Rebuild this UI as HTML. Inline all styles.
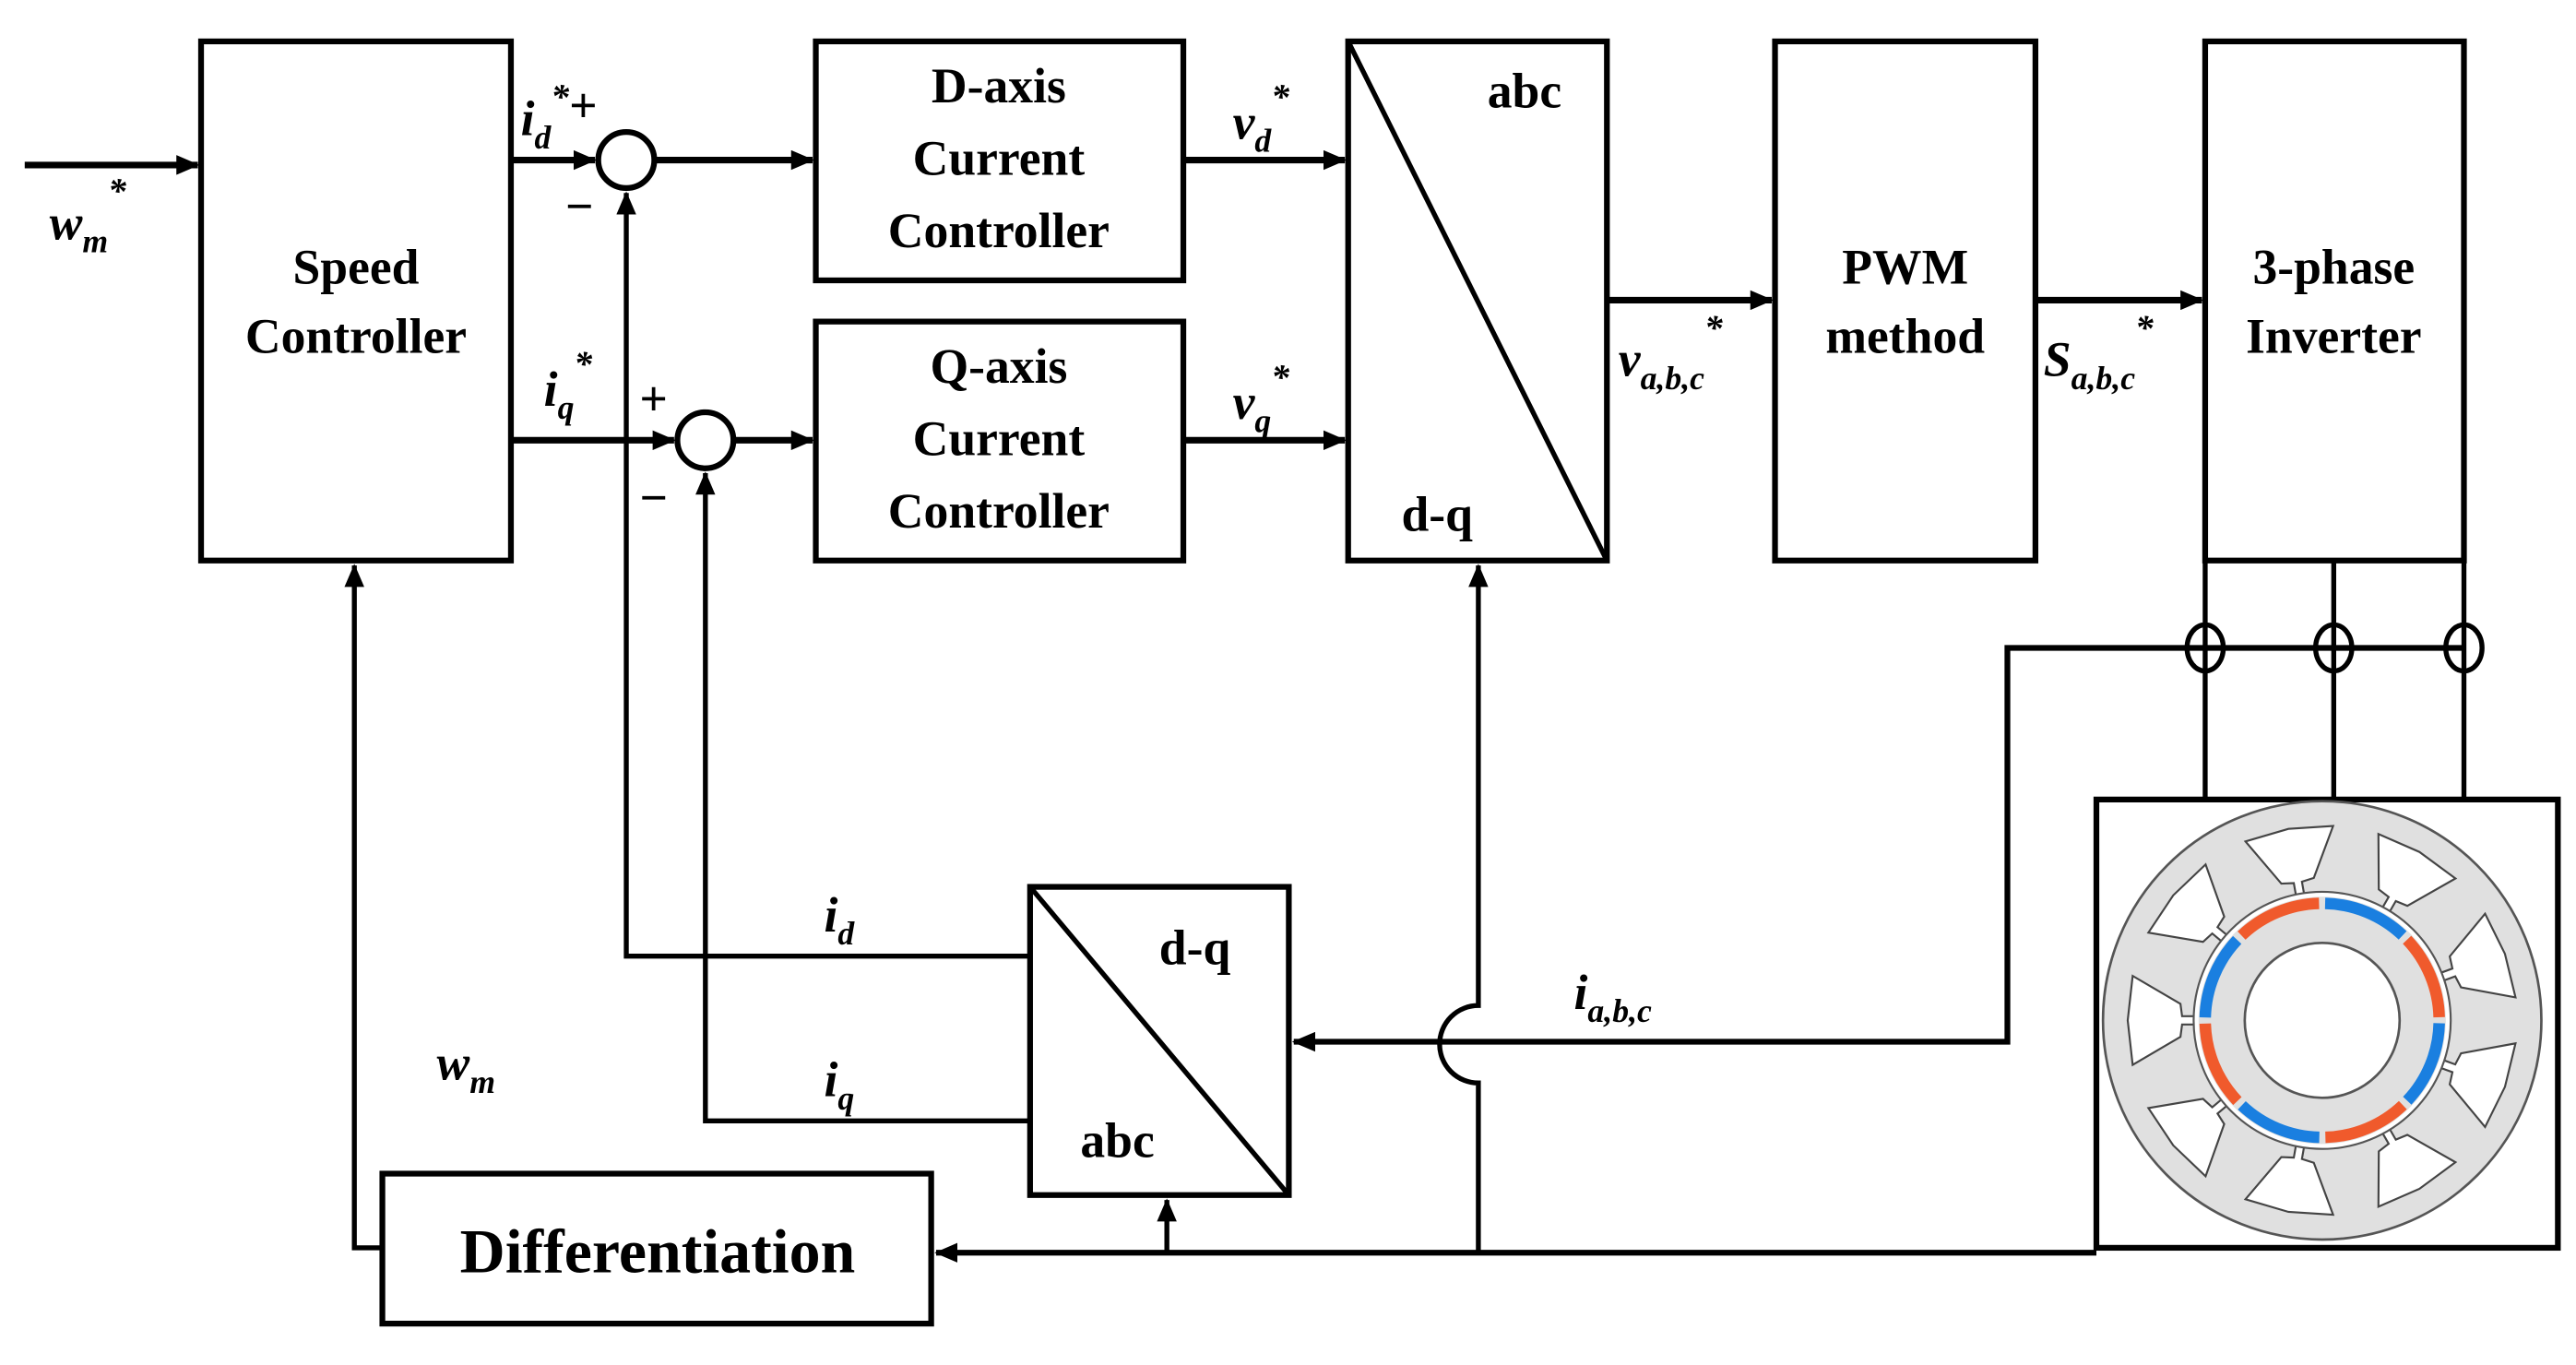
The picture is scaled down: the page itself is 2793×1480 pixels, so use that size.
<!DOCTYPE html>
<html><head><style>html,body{margin:0;padding:0;background:#fff;}svg{display:block}</style></head><body>
<svg width="2793" height="1480" viewBox="0 0 1563 828" xmlns="http://www.w3.org/2000/svg">
<defs>
<marker id="ab" markerWidth="14" markerHeight="12" refX="13" refY="6" orient="auto" markerUnits="userSpaceOnUse"><path d="M0,0 L14,6 L0,12 z" fill="#000"/></marker>
<polygon id="slot" points="77,-2.5 85,-2.5 86,-10 115,-27 118,0 115,27 86,10 85,2.5 77,2.5" fill="#fff" stroke="#444" stroke-width="1.2"/>
</defs>
<g fill="none" stroke="#000" stroke-width="3.5">
<rect x="122" y="25" width="188" height="315"/>
<rect x="495" y="25" width="223" height="145"/>
<rect x="495" y="195" width="223" height="145"/>
<rect x="818" y="25" width="157" height="315"/>
<line x1="818" y1="25" x2="975" y2="340" stroke-width="3"/>
<rect x="1077" y="25" width="158" height="315"/>
<rect x="1338" y="25" width="157" height="315"/>
<rect x="625" y="538" width="157" height="187"/>
<line x1="625" y1="538" x2="782" y2="725" stroke-width="3"/>
<rect x="232" y="712" width="333" height="91"/>
<rect x="1272" y="485" width="280" height="272"/>
<circle cx="380" cy="97" r="17"/>
<circle cx="428" cy="267" r="17"/>
</g>
<g fill="none" stroke="#000" stroke-width="4">
<line x1="15" y1="100" x2="120" y2="100" marker-end="url(#ab)"/>
<line x1="310" y1="97" x2="361" y2="97" marker-end="url(#ab)"/>
<line x1="397" y1="97" x2="493" y2="97" marker-end="url(#ab)"/>
<line x1="310" y1="267" x2="409" y2="267" marker-end="url(#ab)"/>
<line x1="445" y1="267" x2="493" y2="267" marker-end="url(#ab)"/>
<line x1="718" y1="97" x2="816" y2="97" marker-end="url(#ab)"/>
<line x1="718" y1="267" x2="816" y2="267" marker-end="url(#ab)"/>
<line x1="975" y1="182" x2="1075" y2="182" marker-end="url(#ab)"/>
<line x1="1235" y1="182" x2="1336" y2="182" marker-end="url(#ab)"/>
</g>
<g fill="none" stroke="#000" stroke-width="3">
<polyline points="625,580 380,580 380,117" marker-end="url(#ab)"/>
<polyline points="625,680 428,680 428,287" marker-end="url(#ab)"/>
<path d="M897,760 L897,657 A22,22 0 0 1 897,610 L897,343" marker-end="url(#ab)"/>
<polyline points="1495,393 1218,393 1218,632 785,632" marker-end="url(#ab)" stroke-width="3.5"/>
<line x1="1272" y1="760" x2="568" y2="760" marker-end="url(#ab)" stroke-width="3.5"/>
<line x1="708" y1="760" x2="708" y2="728" marker-end="url(#ab)"/>
<polyline points="232,757 215,757 215,343" marker-end="url(#ab)"/>
<line x1="1338" y1="340" x2="1338" y2="485"/>
<line x1="1416" y1="340" x2="1416" y2="485"/>
<line x1="1495" y1="340" x2="1495" y2="485"/>
<ellipse cx="1338" cy="393" rx="11" ry="14"/>
<ellipse cx="1416" cy="393" rx="11" ry="14"/>
<ellipse cx="1495" cy="393" rx="11" ry="14"/>
</g>
<g>
<circle cx="1409" cy="619" r="133" fill="#e0e0e0" stroke="#555" stroke-width="1.5"/>
<g transform="translate(1409,619)">
<use href="#slot" transform="rotate(20)"/><use href="#slot" transform="rotate(60)"/><use href="#slot" transform="rotate(100)"/>
<use href="#slot" transform="rotate(140)"/><use href="#slot" transform="rotate(180)"/><use href="#slot" transform="rotate(220)"/>
<use href="#slot" transform="rotate(260)"/><use href="#slot" transform="rotate(300)"/><use href="#slot" transform="rotate(340)"/>
</g>
<circle cx="1409" cy="619" r="78" fill="#fff" stroke="#555" stroke-width="1.2"/>
<circle cx="1409" cy="619" r="75" fill="#e0e0e0" stroke="none"/>
<circle cx="1409" cy="619" r="71" fill="none" stroke="#1a7fe0" stroke-width="7" stroke-dasharray="52 59.5" stroke-dashoffset="-1.75"/>
<circle cx="1409" cy="619" r="71" fill="none" stroke="#f05a2c" stroke-width="7" stroke-dasharray="52 59.5" stroke-dashoffset="-57.5"/>
<circle cx="1409" cy="619" r="47" fill="#fff" stroke="#555" stroke-width="1.5"/>
</g>
<g font-family="Liberation Serif, serif" font-weight="bold" font-size="30" text-anchor="middle" fill="#000">
<text x="216" y="172">Speed</text><text x="216" y="214">Controller</text>
<text x="606" y="62">D-axis</text><text x="606" y="106">Current</text><text x="606" y="150">Controller</text>
<text x="606" y="232">Q-axis</text><text x="606" y="276">Current</text><text x="606" y="320">Controller</text>
<text x="1156" y="172">PWM</text><text x="1156" y="214">method</text>
<text x="1416" y="172">3-phase</text><text x="1416" y="214">Inverter</text>
<text x="925" y="65">abc</text><text x="872" y="322">d-q</text>
<text x="725" y="585">d-q</text><text x="678" y="702">abc</text>
<text x="399" y="772" font-size="38">Differentiation</text>
</g>
<g font-family="Liberation Serif, serif" font-weight="bold" font-style="italic" font-size="30" fill="#000">
<text x="30" y="145">w<tspan font-size="20" dy="8">m</tspan><tspan font-size="22" dy="-30">*</tspan></text>
<text x="316" y="82">i<tspan font-size="20" dy="8">d</tspan><tspan font-size="22" dy="-24">*</tspan><tspan font-style="normal" font-size="30" dy="8">+</tspan></text>
<text x="343" y="135" font-style="normal">−</text>
<text x="330" y="246">i<tspan font-size="20" dy="8">q</tspan><tspan font-size="22" dy="-26">*</tspan></text>
<text x="388" y="252" font-style="normal">+</text>
<text x="388" y="312" font-style="normal">−</text>
<text x="748" y="84">v<tspan font-size="20" dy="8">d</tspan><tspan font-size="22" dy="-26">*</tspan></text>
<text x="748" y="254">v<tspan font-size="20" dy="8">q</tspan><tspan font-size="22" dy="-26">*</tspan></text>
<text x="982" y="228">v<tspan font-size="20" dy="8">a,b,c</tspan><tspan font-size="22" dy="-30">*</tspan></text>
<text x="1240" y="228">S<tspan font-size="20" dy="8">a,b,c</tspan><tspan font-size="22" dy="-30">*</tspan></text>
<text x="500" y="565">i<tspan font-size="20" dy="8">d</tspan></text>
<text x="500" y="665">i<tspan font-size="20" dy="8">q</tspan></text>
<text x="955" y="612">i<tspan font-size="20" dy="8">a,b,c</tspan></text>
<text x="265" y="655">w<tspan font-size="20" dy="8">m</tspan></text>
</g>
</svg>
</body></html>
